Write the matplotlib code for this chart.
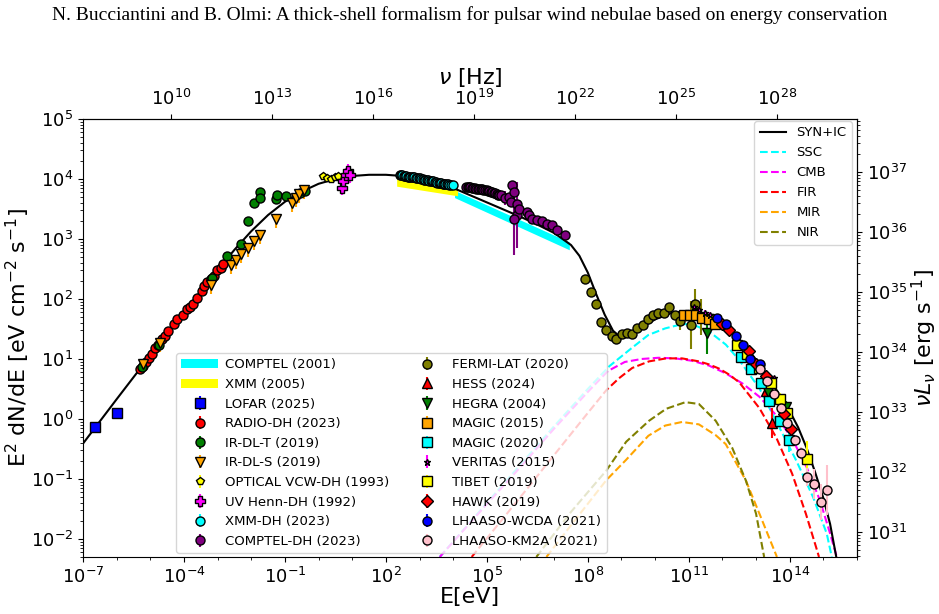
import numpy as np
import matplotlib
matplotlib.use('Agg')
import matplotlib.pyplot as plt
from matplotlib.ticker import FixedLocator, NullLocator, NullFormatter

plt.rcParams['font.size'] = 13

H_PLANCK = 4.135667e-15                       # eV s
LUM = 4 * np.pi * (2.0 * 3.086e21) ** 2 * 1.602e-12   # flux -> nuL_nu (d = 2 kpc)

# ---------------- model curves: log10 E[eV], log10 E^2 dN/dE ----------------
synic_logE = [-7.0, -6.0, -5.0, -4.0, -3.0, -2.5, -2.0, -1.5, -1.0, -0.5, 0.0, 0.5, 1.0,
              1.5, 2.0, 2.5, 3.0, 3.5, 4.0, 4.5, 5.0, 5.5, 6.0, 6.5, 7.0, 7.5, 7.75, 8.0,
              8.25, 8.5, 8.75, 9.0, 9.25, 9.5, 10.0, 10.5, 11.0, 11.5, 12.0, 12.5, 13.0,
              13.5, 14.0, 14.25, 14.5, 14.75, 15.0, 15.2, 15.4]
synic_logF = [-0.41, 0.33, 1.06, 1.78, 2.48, 2.82, 3.13, 3.40, 3.62, 3.79, 3.92, 4.00, 4.05,
              4.07, 4.07, 4.05, 4.01, 3.94, 3.85, 3.73, 3.61, 3.49, 3.37, 3.24, 3.10, 2.90, 2.72,
              2.44, 2.08, 1.74, 1.47, 1.35, 1.40, 1.49, 1.66, 1.77, 1.80, 1.73, 1.57, 1.33, 0.99,
              0.58, 0.13, -0.14, -0.48, -0.88, -1.32, -1.75, -2.35]

ssc_logE = [3.6, 5.0, 6.0, 7.0, 8.0, 8.64, 9.3, 9.8, 10.3, 10.8, 11.1, 11.6, 12.1, 12.5,
            13.1, 13.7, 14.2, 14.7, 15.1, 15.25]
ssc_logF = [-2.3, -1.40, -0.76, -0.12, 0.50, 0.88, 1.18, 1.40, 1.51, 1.58, 1.58, 1.46, 1.24,
            0.98, 0.51, -0.15, -0.70, -1.31, -1.91, -2.3]

cmb_logE = [3.6, 5.0, 6.0, 7.0, 8.0, 8.6, 9.1, 9.6, 10.1, 10.6, 11.1, 11.6, 12.1, 12.6,
            13.1, 13.6, 14.1, 14.5, 14.9, 15.2, 15.4]
cmb_logF = [-2.3, -1.42, -0.80, -0.16, 0.45, 0.80, 0.95, 1.00, 1.02, 1.01, 0.97, 0.89, 0.76,
            0.59, 0.37, 0.06, -0.36, -0.80, -1.36, -1.91, -2.3]

fir_logE = [4.55, 6.0, 7.0, 8.0, 8.55, 8.93, 9.32, 9.82, 10.33, 10.8, 11.3, 11.6, 11.9,
            12.2, 12.5, 13.1, 13.6, 14.07, 14.48, 14.78, 14.87]
fir_logF = [-2.3, -1.30, -0.60, 0.10, 0.48, 0.68, 0.85, 0.96, 1.01, 1.01, 0.96, 0.91, 0.84,
            0.74, 0.61, 0.18, -0.31, -0.91, -1.58, -2.13, -2.3]

mir_logE = [6.77, 7.6, 8.55, 9.14, 9.8, 10.3, 10.8, 11.3, 11.8, 12.1, 12.7, 13.18, 13.62]
mir_logF = [-2.3, -1.70, -1.02, -0.68, -0.28, -0.11, -0.05, -0.09, -0.27, -0.42, -1.03,
            -1.69, -2.3]

nir_logE = [6.47, 7.5, 8.55, 9.14, 9.82, 10.33, 10.9, 11.3, 11.8, 12.29, 12.7, 13.0, 13.24]
nir_logF = [-2.3, -1.55, -0.86, -0.38, -0.03, 0.17, 0.28, 0.25, -0.03, -0.48, -1.03,
            -1.58, -2.3]

# ---------------- bands ----------------
comptel01_logE = [4.04, 7.45]
comptel01_hi = [3.81, 2.95]
comptel01_lo = [3.69, 2.82]

xmm05_logE = [2.32, 4.13]
xmm05_hi = [4.02, 3.85]
xmm05_lo = [3.88, 3.72]

# ---------------- data points ----------------
lofar_logE = [-6.64, -5.99]
lofar_logF = [-0.13, 0.10]

radio_logE = [-5.31, -5.22, -5.13, -5.04, -4.95, -4.86, -4.77, -4.66, -4.57, -4.48, -4.30,
              -4.21, -4.03, -3.91, -3.82, -3.74, -3.62, -3.47, -3.41, -3.32, -3.20, -3.11,
              -3.02, -2.91, -2.85]
radio_logF = [0.83, 0.88, 0.95, 1.01, 1.09, 1.18, 1.24, 1.33, 1.39, 1.46, 1.59, 1.66, 1.74,
              1.84, 1.87, 1.92, 2.01, 2.14, 2.21, 2.29, 2.34, 2.39, 2.49, 2.52, 2.59]

irt_logE = [-5.25, -4.74, -3.17, -2.73, -2.31, -2.10, -1.93, -1.75, -1.75, -1.27, -1.24,
            -0.98, -0.56, -0.41]
irt_logF = [0.86, 1.24, 2.35, 2.72, 2.92, 3.30, 3.60, 3.78, 3.68, 3.66, 3.73, 3.71, 3.76, 3.80]

irs_logE = [-5.22, -4.72, -3.20, -2.61, -2.46, -2.31, -2.10, -1.93, -1.75, -1.27, -0.80,
            -0.68, -0.59, -0.44]
irs_logF = [0.91, 1.26, 2.24, 2.57, 2.65, 2.75, 2.85, 2.97, 3.07, 3.33, 3.60, 3.68, 3.75, 3.81]

opt_logE = [0.12, 0.24, 0.36, 0.48, 0.57]
opt_logF = [4.05, 4.01, 4.00, 4.03, 4.05]

uv_logE = [0.69, 0.72, 0.80, 0.86, 0.92]
uv_logF = [3.85, 3.96, 4.06, 4.13, 4.06]

xmmdh_logE = [2.41, 2.45, 2.49, 2.53, 2.57, 2.61, 2.65, 2.69, 2.73, 2.77, 2.81, 2.85, 2.89,
              2.93, 2.97, 3.01, 3.05, 3.09, 3.13, 3.17, 3.21, 3.25, 3.29, 3.33, 3.37, 3.41,
              3.45, 3.49, 3.53, 3.57, 3.61, 3.65, 3.69, 3.73, 3.77, 3.81, 3.85, 3.89, 3.93,
              3.98]
xmmdh_logF = [4.06, 4.06, 4.06, 4.05, 4.05, 4.05, 4.04, 4.04, 4.04, 4.03, 4.03, 4.03, 4.02,
              4.02, 4.01, 4.01, 4.00, 4.00, 3.99, 3.99, 3.98, 3.98, 3.97, 3.97, 3.96, 3.96,
              3.95, 3.95, 3.94, 3.94, 3.93, 3.93, 3.92, 3.92, 3.91, 3.91, 3.91, 3.90, 3.90,
              3.90]

comptel_logE = [4.39, 4.43, 4.47, 4.51, 4.56, 4.60, 4.64, 4.69, 4.73, 4.77, 4.82, 4.86,
                4.90, 4.94, 4.99, 5.03, 5.07, 5.12, 5.16, 5.20, 5.24, 5.29, 5.33, 5.37,
                5.43, 5.55, 5.67, 5.76, 5.82, 5.73, 5.91, 5.91, 5.82, 5.97, 6.18, 6.26,
                6.35, 6.50, 6.65, 6.80, 6.95, 7.09, 7.33]
comptel_logF = [3.86, 3.86, 3.86, 3.86, 3.85, 3.85, 3.85, 3.84, 3.84, 3.84, 3.83, 3.83,
                3.82, 3.82, 3.81, 3.80, 3.80, 3.79, 3.78, 3.77, 3.76, 3.75, 3.74, 3.73,
                3.73, 3.68, 3.70, 3.90, 3.78, 3.62, 3.58, 3.40, 3.33, 3.50, 3.45, 3.40,
                3.33, 3.32, 3.30, 3.25, 3.23, 3.15, 3.07]
comptel_err = [0.02] * 24 + [0.03, 0.12, 0.05, 0.05, 0.05, 0.08, 0.10, 0.55, 0.60, 0.10,
                             0.04, 0.04, 0.04, 0.04, 0.04, 0.04, 0.04, 0.04, 0.04]

fermi_logE = [7.93, 8.10, 8.25, 8.40, 8.55, 8.73, 8.85, 9.02, 9.17, 9.32, 9.47, 9.65, 9.80,
              9.94, 10.09, 10.27, 10.42, 10.60, 10.74, 11.07, 11.19, 11.36]
fermi_logF = [2.34, 2.12, 1.91, 1.61, 1.48, 1.39, 1.33, 1.41, 1.44, 1.41, 1.51, 1.56, 1.66,
              1.74, 1.77, 1.76, 1.86, 1.74, 1.64, 1.56, 1.91, 1.70]
fermi_err = [0.02] * 17 + [0.05, 0.15, 0.40, 0.25, 0.30]

hess_logE = [13.30, 13.47]
hess_logF = [0.46, -0.07]
hess_err = [0.10, 0.25]

hegra_logE = [11.55, 13.36, 13.89]
hegra_logF = [1.43, 0.45, 0.20]
hegra_err = [0.35, 0.10, 0.10]

magic15_logE = [10.86, 11.04, 11.22, 11.40, 11.61, 11.78]
magic15_logF = [1.74, 1.74, 1.74, 1.69, 1.66, 1.59]

magic20_logE = [12.55, 12.85, 13.15, 13.39, 13.71, 13.98]
magic20_logF = [1.03, 0.83, 0.60, 0.30, -0.03, -0.35]
magic20_err = [0.05, 0.05, 0.07, 0.08, 0.12, 0.20]

veritas_logE = [11.16, 11.31, 11.49, 11.64, 13.53]
veritas_logF = [1.87, 1.82, 1.77, 1.74, 0.68]

tibet_logE = [12.44, 12.73, 13.09, 13.45, 13.71, 13.92, 14.51]
tibet_logF = [1.24, 1.08, 0.85, 0.60, 0.33, 0.10, -0.66]
tibet_err = [0.05, 0.05, 0.06, 0.08, 0.10, 0.12, 0.30]

hawk_logE = [11.99, 12.20, 12.79, 13.00, 13.30, 13.83, 14.04]
hawk_logF = [1.58, 1.49, 1.13, 0.91, 0.71, 0.08, -0.17]

wcda_logE = [11.84, 12.11, 12.41, 12.61, 12.82, 13.12]
wcda_logF = [1.69, 1.58, 1.38, 1.24, 1.00, 0.91]

km2a_logE = [13.12, 13.33, 13.53, 13.74, 13.92, 14.16, 14.34, 14.51, 14.72, 14.93, 15.11]
km2a_logF = [0.83, 0.63, 0.41, 0.18, -0.07, -0.35, -0.56, -0.96, -1.08, -1.38, -1.18]
km2a_err = [0.04, 0.04, 0.05, 0.06, 0.07, 0.09, 0.10, 0.15, 0.25, 0.30, 0.42]


def pts(ax, logE, logF, color, marker, label, err_lo=0.03, err_hi=None, ms=6.5):
    logE = np.asarray(logE)
    F = 10.0 ** np.asarray(logF)
    err_lo = np.broadcast_to(np.asarray(err_lo, dtype=float), F.shape)
    err_hi = err_lo if err_hi is None else np.broadcast_to(np.asarray(err_hi, dtype=float), F.shape)
    yerr = [F * (1 - 10.0 ** (-err_lo)), F * (10.0 ** err_hi - 1)]
    return ax.errorbar(10.0 ** logE, F, yerr=yerr, ls='none', marker=marker, ms=ms,
                       mfc=color, mec='k', mew=1.0, ecolor=color, elinewidth=1.5,
                       label=label, zorder=4)


fig = plt.figure(figsize=(9.39, 6.14), dpi=100)
ax = fig.add_axes([0.0884, 0.0928, 0.8243, 0.7134])
ax.set_xscale('log')
ax.set_yscale('log')

fig.text(0.5, 0.975, 'N. Bucciantini and B. Olmi: A thick-shell formalism for pulsar wind nebulae '
         'based on energy conservation', ha='center', va='center',
         family='Liberation Serif', fontsize=14)

# model lines
lines = []
lines += ax.plot(10.0 ** np.array(synic_logE), 10.0 ** np.array(synic_logF), 'k-', lw=1.5,
                 label='SYN+IC', zorder=3)
for xs, ys, c, lab in [(ssc_logE, ssc_logF, 'cyan', 'SSC'), (cmb_logE, cmb_logF, 'magenta', 'CMB'),
                       (fir_logE, fir_logF, 'red', 'FIR'), (mir_logE, mir_logF, 'orange', 'MIR'),
                       (nir_logE, nir_logF, 'olive', 'NIR')]:
    lines += ax.plot(10.0 ** np.array(xs), 10.0 ** np.array(ys), '--', color=c, lw=1.5,
                     label=lab, zorder=2)

# bands
h = []
h.append(ax.fill_between(10.0 ** np.array(comptel01_logE), 10.0 ** np.array(comptel01_lo),
                         10.0 ** np.array(comptel01_hi), color='cyan', lw=0,
                         label='COMPTEL (2001)', zorder=2))
h.append(ax.fill_between(10.0 ** np.array(xmm05_logE), 10.0 ** np.array(xmm05_lo),
                         10.0 ** np.array(xmm05_hi), color='yellow', lw=0,
                         label='XMM (2005)', zorder=2))

h.append(pts(ax, lofar_logE, lofar_logF, 'blue', 's', 'LOFAR (2025)', 0.02))
h.append(pts(ax, radio_logE, radio_logF, 'red', 'o', 'RADIO-DH (2023)', 0.02))
h.append(pts(ax, irt_logE, irt_logF, 'green', 'o', 'IR-DL-T (2019)', 0.02))
h.append(pts(ax, irs_logE, irs_logF, 'orange', 'v', 'IR-DL-S (2019)', 0.15, 0.0))
h.append(pts(ax, opt_logE, opt_logF, 'yellow', 'p', 'OPTICAL VCW-DH (1993)', 0.02, ms=6))
h.append(pts(ax, uv_logE, uv_logF, 'magenta', 'P', 'UV Henn-DH (1992)', 0.12))
h.append(pts(ax, xmmdh_logE, xmmdh_logF, 'cyan', 'o', 'XMM-DH (2023)', 0.01))
h.append(pts(ax, comptel_logE, comptel_logF, 'purple', 'o', 'COMPTEL-DH (2023)', comptel_err))
h.append(pts(ax, fermi_logE, fermi_logF, 'olive', 'o', 'FERMI-LAT (2020)', fermi_err))
h.append(pts(ax, hess_logE, hess_logF, 'red', '^', 'HESS (2024)', hess_err))
h.append(pts(ax, hegra_logE, hegra_logF, 'green', 'v', 'HEGRA (2004)', hegra_err))
h.append(pts(ax, magic15_logE, magic15_logF, 'orange', 's', 'MAGIC (2015)', 0.04))
h.append(pts(ax, magic20_logE, magic20_logF, 'cyan', 's', 'MAGIC (2020)', magic20_err))
h.append(pts(ax, veritas_logE, veritas_logF, 'magenta', '*', 'VERITAS (2015)', 0.04, ms=5))
h.append(pts(ax, tibet_logE, tibet_logF, 'yellow', 's', 'TIBET (2019)', tibet_err))
h.append(pts(ax, hawk_logE, hawk_logF, 'red', 'D', 'HAWK (2019)', 0.04, ms=6))
h.append(pts(ax, wcda_logE, wcda_logF, 'blue', 'o', 'LHAASO-WCDA (2021)', 0.04))
h.append(pts(ax, km2a_logE, km2a_logF, 'pink', 'o', 'LHAASO-KM2A (2021)', km2a_err))

ax.set_xlim(1e-7, 1e16)
ax.set_ylim(5e-3, 1e5)
ax.xaxis.set_major_locator(FixedLocator(10.0 ** np.arange(-7, 16, 3)))
ax.xaxis.set_minor_locator(FixedLocator(10.0 ** np.arange(-7, 17)))
ax.xaxis.set_minor_formatter(NullFormatter())
ax.set_xlabel('E[eV]', fontsize=16, labelpad=0)
ax.set_ylabel(r'E$^2$ dN/dE [eV cm$^{-2}$ s$^{-1}$]', fontsize=16)
ax.yaxis.set_label_coords(-0.066, 0.5)

top = ax.secondary_xaxis('top', functions=(lambda e: e / H_PLANCK, lambda n: n * H_PLANCK))
top.xaxis.set_major_locator(FixedLocator(10.0 ** np.arange(10, 29, 3)))
top.xaxis.set_minor_locator(NullLocator())
top.set_xlabel(r'$\nu$ [Hz]', fontsize=16)

right = ax.secondary_yaxis('right', functions=(lambda f: f * LUM, lambda l: l / LUM))
right.set_ylabel(r'$\nu L_\nu$ [erg s$^{-1}$]', fontsize=16)
right.yaxis.set_label_coords(1.068, 0.5, transform=ax.transAxes)

leg1 = ax.legend(handles=lines, loc='upper right', bbox_to_anchor=(0.9935, 0.9954),
                 borderaxespad=0, fontsize=9.5, labelspacing=0.53)
ax.add_artist(leg1)
ax.legend(handles=h, loc='lower left', bbox_to_anchor=(0.12, 0.009), borderaxespad=0,
          ncol=2, fontsize=9.5, labelspacing=0.5, handlelength=2.8, handletextpad=0.5,
          columnspacing=1.5)

fig.savefig('out.png', dpi=100)
